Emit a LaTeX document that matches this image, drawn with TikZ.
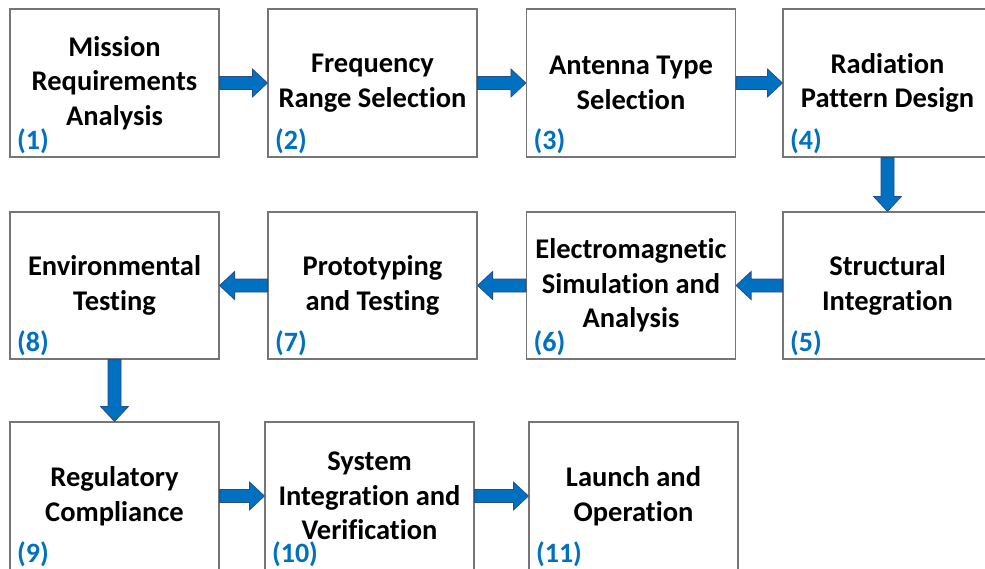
\documentclass[tikz,border=0pt]{standalone}
\usepackage{fontspec}
\setmainfont{Carlito}[RawFeature={-liga}]
\usetikzlibrary{calc}
\definecolor{boxline}{RGB}{118,118,118}
\definecolor{arrfill}{RGB}{0,112,192}
\definecolor{arrline}{RGB}{38,78,140}
\definecolor{numblue}{RGB}{0,112,192}
\tikzset{
  box/.style={draw=boxline, line width=1.2pt, fill=white, minimum width=209pt, minimum height=148pt, inner sep=0pt, align=center, font=\bfseries\fontsize{28.5}{34.5}\selectfont},
  num/.style={anchor=base west, inner sep=0pt, text=numblue, font=\bfseries\fontsize{28}{34}\selectfont},
  blk/.style={fill=arrfill, draw=arrline, line width=0.8pt, line join=miter,
    to path={
      ($(\tikztostart)!6.5pt!90:(\tikztotarget)$)
      -- ($($(\tikztotarget)!15pt!(\tikztostart)$)!6.5pt!90:(\tikztotarget)$)
      -- ($($(\tikztotarget)!15pt!(\tikztostart)$)!14pt!90:(\tikztotarget)$)
      -- (\tikztotarget)
      -- ($($(\tikztotarget)!15pt!(\tikztostart)$)!14pt!-90:(\tikztotarget)$)
      -- ($($(\tikztotarget)!15pt!(\tikztostart)$)!6.5pt!-90:(\tikztotarget)$)
      -- ($(\tikztostart)!6.5pt!-90:(\tikztotarget)$) -- cycle}}
}
\begin{document}
\begin{tikzpicture}[x=1pt,y=-1pt]
\useasboundingbox (0,0) rectangle (985,568);
\clip (0,0) rectangle (985,568);
\fill[white] (0,0) rectangle (985,568);
% row 1
\node[box] (b1) at (114.5,83) {Mission\\Requirements\\Analysis};
\node[box] (b2) at (372.5,83) {Frequency\\Range Selection};
\node[box] (b3) at (631,83) {Antenna Type\\Selection};
\node[box] (b4) at (887.5,83) {Radiation\\Pattern Design};
% row 2
\node[box, minimum height=147pt] (b5) at (887.5,285.5) {Structural\\Integration};
\node[box, minimum height=147pt] (b6) at (631,285.5) {Electromagnetic\\Simulation and\\Analysis};
\node[box, minimum height=147pt] (b7) at (372.5,285.5) {Prototyping\\and Testing};
\node[box, minimum height=147pt] (b8) at (114.5,285.5) {Environmental\\Testing};
% row 3
\node[box] (b9) at (114.5,496) {Regulatory\\Compliance};
\node[box] (b10) at (369.5,496) {System\\Integration and\\Verification};
\node[box] (b11) at (633.5,496) {Launch and\\Operation};
% numbers
\foreach \i in {1,...,11}{
  \node[num] (n\i) at ($(b\i.south west)+(7.5,-8.5)$) {(\i)};
}
% arrows
\draw[blk] (b1.east) to (b2.west);
\draw[blk] (b2.east) to (b3.west);
\draw[blk] (b3.east) to (b4.west);
\draw[blk] (b4.south) to (b5.north);
\draw[blk] (b5.west) to (b6.east);
\draw[blk] (b6.west) to (b7.east);
\draw[blk] (b7.west) to (b8.east);
\draw[blk] (b8.south) to (b9.north);
\draw[blk] (b9.east) to (b10.west);
\draw[blk] (b10.east) to (b11.west);
\end{tikzpicture}
\end{document}
